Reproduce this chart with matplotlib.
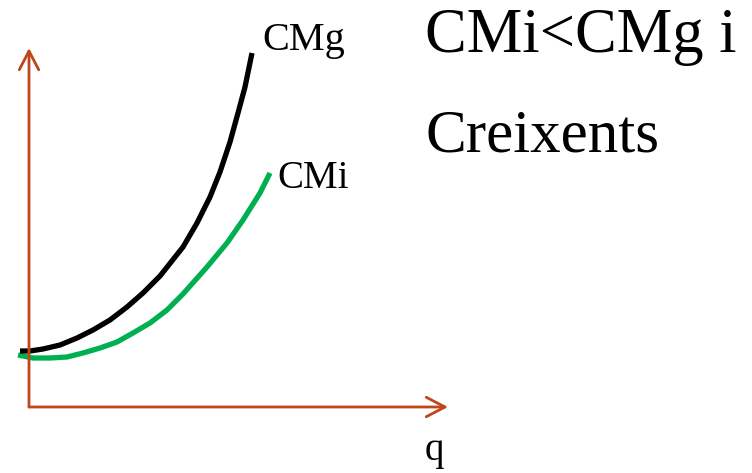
import matplotlib
matplotlib.use("Agg")
import matplotlib.pyplot as plt

# Values (q along the horizontal axis, cost upward)
q_cmg = [-9, 1, 14, 31, 48, 64, 81, 98, 114, 131, 154, 168, 181,
         191, 201, 209, 216, 223]
cmg = [56, 56, 58, 62, 69, 77, 87, 100, 114, 131, 160, 184, 210,
       235, 265, 294, 320, 354]

q_cmi = [-11, 4, 21, 38, 54, 71, 88, 104, 121, 138, 154, 178, 198,
         214, 231, 241]
cmi = [52, 49, 49, 50, 54, 59, 65, 74, 84, 97, 113, 140, 164,
       187, 214, 234]

axis_color = "#C0461A"
serif = ["Liberation Serif", "DejaVu Serif"]

fig = plt.figure(figsize=(7.52, 4.73), dpi=100)
ax = fig.add_axes([0, 0, 1, 1])
ax.set_xlim(-29, 723)
ax.set_ylim(-66, 407)
ax.axis("off")

# axes with open arrow heads
arrow = dict(arrowstyle="->,head_length=1.35,head_width=0.7",
             color=axis_color, lw=2, shrinkA=0, shrinkB=0)
ax.annotate("", xy=(0, 359), xytext=(0, 0), arrowprops=arrow)
ax.annotate("", xy=(419, 0), xytext=(0, 0), arrowprops=arrow)

# cost curves
ax.plot(q_cmi, cmi, color="#00B050", lw=3.8, solid_capstyle="butt",
        solid_joinstyle="round")
ax.plot(q_cmg, cmg, color="black", lw=3.8, solid_capstyle="butt",
        solid_joinstyle="round")

ax.text(233, 357, "CMg", fontsize=29, family=serif, va="baseline")
ax.text(248, 219, "CMi", fontsize=28, family=serif, va="baseline")
ax.text(396, -53, "q", fontsize=28, family=serif, va="baseline")

ax.text(396, 355, "CMi<CMg i", fontsize=45, family=serif, va="baseline")
ax.text(396, 255, "Creixents", fontsize=44, family=serif, va="baseline")

fig.savefig("out.png", dpi=100)
